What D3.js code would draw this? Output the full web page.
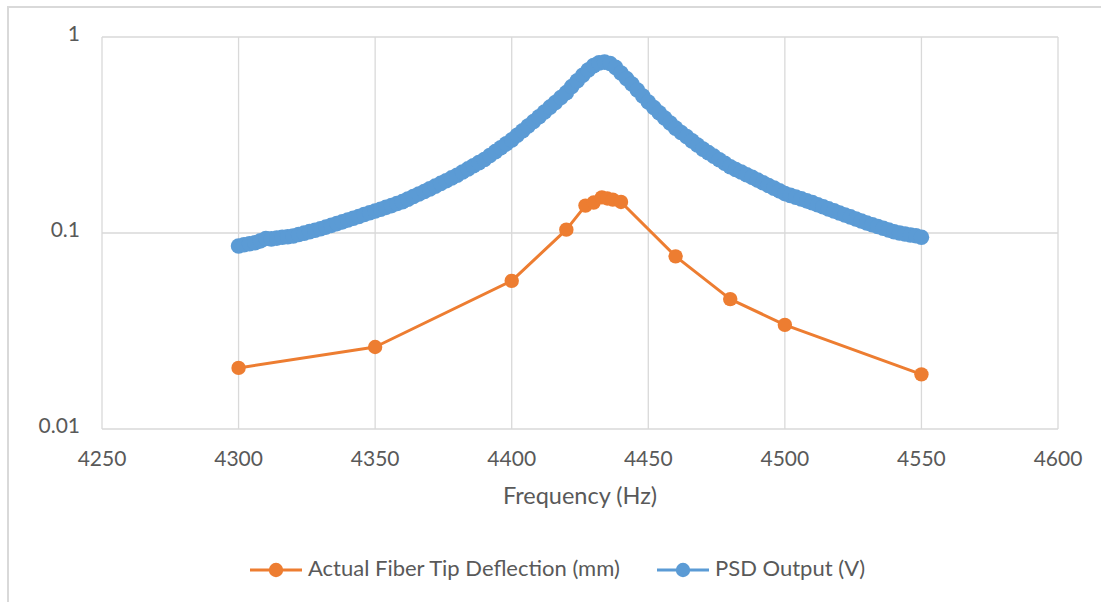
<!DOCTYPE html>
<html>
<head>
<meta charset="utf-8">
<script src="https://cdn.jsdelivr.net/npm/d3@7"></script>
<style>
  html, body { margin: 0; padding: 0; background: #fff; }
  svg { display: block; }
  text { font-family: Lato, "Open Sans", sans-serif; fill: #595959; }
</style>
</head>
<body>
<svg id="chart" width="1101" height="602"></svg>
<script>
// ---- data ----
const xTicks = [4250, 4300, 4350, 4400, 4450, 4500, 4550, 4600];
const yTicks = [0.01, 0.1, 1];
const yTickLabels = ["0.01", "0.1", "1"];
const xTitle = "Frequency (Hz)";
const seriesNames = ["Actual Fiber Tip Deflection (mm)", "PSD Output (V)"];

const deflFreq = [4300, 4350, 4400, 4420, 4427, 4430, 4433, 4435, 4437, 4440, 4460, 4480, 4500, 4550];
const deflVal  = [0.0205, 0.0262, 0.057, 0.104, 0.138, 0.143, 0.152, 0.150, 0.148, 0.144, 0.076, 0.046, 0.034, 0.019];

const psdFreq = [
  4300,4302,4304,4306,4308,4310,4312,4314,4316,4318,
  4320,4322,4324,4326,4328,4330,4332,4334,4336,4338,
  4340,4342,4344,4346,4348,4350,4352,4354,4356,4358,
  4360,4362,4364,4366,4368,4370,4372,4374,4376,4378,
  4380,4382,4384,4386,4388,4390,4392,4394,4396,4398,
  4400,4402,4404,4406,4408,4410,4412,4414,4416,4418,
  4420,4422,4424,4426,4428,4430,4432,4434,4436,4438,
  4440,4442,4444,4446,4448,4450,4452,4454,4456,4458,
  4460,4462,4464,4466,4468,4470,4472,4474,4476,4478,
  4480,4482,4484,4486,4488,4490,4492,4494,4496,4498,
  4500,4502,4504,4506,4508,4510,4512,4514,4516,4518,
  4520,4522,4524,4526,4528,4530,4532,4534,4536,4538,
  4540,4542,4544,4546,4548,4550
];
const psdVal = [
  0.0859,0.0871,0.0881,0.0891,0.0912,0.0938,0.0933,0.0942,0.0951,0.0957,
  0.0966,0.0982,0.0998,0.1016,0.1033,0.1052,0.1072,0.1094,0.1117,0.1140,
  0.1164,0.1189,0.1213,0.1242,0.1268,0.1294,0.1321,0.1352,0.1380,0.1413,
  0.1445,0.1489,0.1535,0.1581,0.1629,0.1679,0.1734,0.1791,0.1849,0.1910,
  0.1972,0.2046,0.2123,0.2203,0.2286,0.2371,0.2483,0.2600,0.2723,0.2851,
  0.2985,0.3155,0.3327,0.3516,0.3707,0.3917,0.4140,0.4385,0.4634,0.4909,
  0.5200,0.5585,0.5984,0.6383,0.6792,0.7145,0.7379,0.7447,0.7328,0.6998,
  0.6546,0.6138,0.5754,0.5370,0.5000,0.4656,0.4365,0.4102,0.3864,0.3639,
  0.3428,0.3258,0.3105,0.2951,0.2812,0.2679,0.2570,0.2466,0.2366,0.2270,
  0.2178,0.2109,0.2046,0.1982,0.1923,0.1862,0.1803,0.1746,0.1694,0.1641,
  0.1589,0.1556,0.1524,0.1493,0.1459,0.1429,0.1393,0.1361,0.1327,0.1297,
  0.1265,0.1236,0.1208,0.1178,0.1151,0.1125,0.1102,0.1079,0.1057,0.1035,
  0.1014,0.1000,0.0989,0.0977,0.0968,0.0951
];

const colors = ["#ED7D31", "#5B9BD5"];

// ---- layout ----
const svg = d3.select("#chart");
const plot = { left: 102, right: 1058, top: 37, bottom: 429 };

const x = d3.scaleLinear().domain([4250, 4600]).range([plot.left, plot.right]);
const y = d3.scaleLog().domain([0.01, 1]).range([plot.bottom, plot.top]);

// outer chart border
svg.append("rect")
  .attr("x", 8).attr("y", 7).attr("width", 1200).attr("height", 800)
  .attr("fill", "#fff").attr("stroke", "#D9D9D9").attr("stroke-width", 2);

// vertical gridlines
svg.append("g")
  .selectAll("line").data(xTicks).join("line")
  .attr("x1", d => x(d)).attr("x2", d => x(d))
  .attr("y1", plot.top).attr("y2", plot.bottom)
  .attr("stroke", "#D9D9D9").attr("stroke-width", 1.3);

// horizontal gridlines
svg.append("g")
  .selectAll("line").data(yTicks).join("line")
  .attr("x1", plot.left).attr("x2", plot.right)
  .attr("y1", d => y(d)).attr("y2", d => y(d))
  .attr("stroke", "#D9D9D9").attr("stroke-width", 1.3);

// y tick labels
svg.append("g")
  .selectAll("text").data(yTicks).join("text")
  .attr("x", 80).attr("y", d => y(d) - 1)
  .attr("text-anchor", "end").attr("dominant-baseline", "middle")
  .attr("font-size", 21)
  .text((d, i) => yTickLabels[i]);

// x tick labels
svg.append("g")
  .selectAll("text").data(xTicks).join("text")
  .attr("x", d => x(d)).attr("y", 461)
  .attr("text-anchor", "middle").attr("dominant-baseline", "middle")
  .attr("font-size", 21)
  .text(d => d);

// x axis title
svg.append("text")
  .attr("x", (plot.left + plot.right) / 2).attr("y", 498)
  .attr("text-anchor", "middle").attr("dominant-baseline", "middle")
  .attr("font-size", 23.5)
  .text(xTitle);

// series
function drawSeries(fs, vs, color, r, lw) {
  const pts = fs.map((f, i) => [f, vs[i]]);
  const line = d3.line().x(d => x(d[0])).y(d => y(d[1]));
  const g = svg.append("g");
  g.append("path").datum(pts)
    .attr("d", line).attr("fill", "none")
    .attr("stroke", color).attr("stroke-width", lw)
    .attr("stroke-linejoin", "round");
  g.selectAll("circle").data(pts).join("circle")
    .attr("cx", d => x(d[0])).attr("cy", d => y(d[1]))
    .attr("r", r).attr("fill", color);
}
drawSeries(deflFreq, deflVal, colors[0], 7.2, 3);
drawSeries(psdFreq, psdVal, colors[1], 7.8, 3);

// legend
const legendItems = [
  { name: seriesNames[0], color: colors[0], x0: 250 },
  { name: seriesNames[1], color: colors[1], x0: 657 }
];
const lg = svg.append("g");
legendItems.forEach(it => {
  const yy = 570;
  lg.append("line").attr("x1", it.x0).attr("x2", it.x0 + 52)
    .attr("y1", yy).attr("y2", yy)
    .attr("stroke", it.color).attr("stroke-width", 3);
  lg.append("circle").attr("cx", it.x0 + 26).attr("cy", yy).attr("r", 7.2).attr("fill", it.color);
  lg.append("text").attr("x", it.x0 + 58).attr("y", yy)
    .attr("dominant-baseline", "middle").attr("font-size", 22)
    .text(it.name);
});
</script>
</body>
</html>
